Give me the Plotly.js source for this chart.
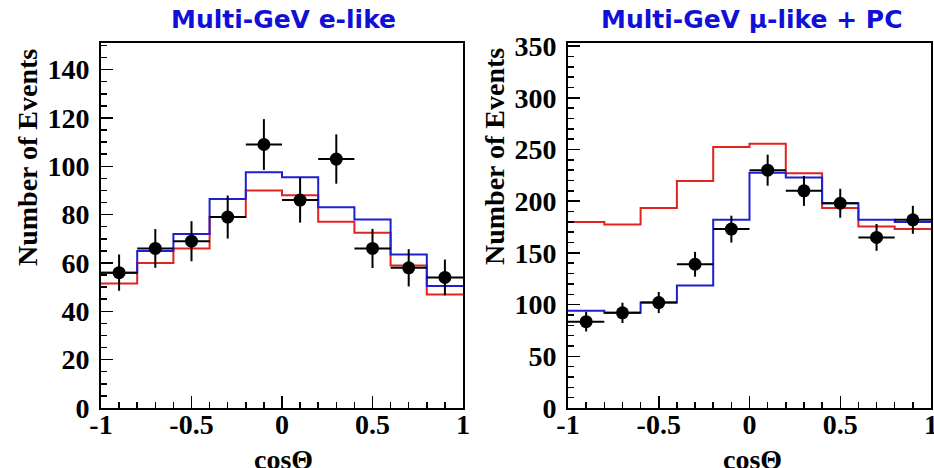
<!DOCTYPE html>
<html>
<head>
<meta charset="utf-8">
<script src="https://cdn.plot.ly/plotly-3.0.1.min.js"></script>
<style>html,body{margin:0;padding:0;background:#fff;}#chart{width:934px;height:468px;}</style>
</head>
<body>
<div id="chart"></div>
<script>
// bin centers (cos theta)
const binCenters = [-0.9, -0.7, -0.5, -0.3, -0.1, 0.1, 0.3, 0.5, 0.7, 0.9];
const binEdges = [-1, -0.8, -0.6, -0.4, -0.2, 0, 0.2, 0.4, 0.6, 0.8, 1];

// Multi-GeV e-like
const eData = [56, 66, 69, 79, 109, 86, 103, 66, 58, 54];
const eErr = [7.5, 8, 8.3, 8.9, 10.5, 9.3, 10.2, 8.1, 7.7, 7.4];
const eRed = [51.5, 60, 66, 79, 90, 88, 77, 72.5, 59, 47];
const eBlue = [56, 65, 72, 86.5, 97.5, 95.5, 83, 78, 63.5, 50.5];

// Multi-GeV mu-like + PC
const muData = [83.5, 92, 102, 139, 173, 230, 210, 198, 165, 182];
const muErr = [9.5, 9.8, 10.2, 12, 13, 15, 14.5, 14, 13, 13.5];
const muRed = [180, 177.5, 193.5, 219.5, 252.5, 255.5, 227, 193.5, 175.5, 173];
const muBlue = [94, 92, 102, 118.5, 182, 227.5, 223, 198, 182, 180];

const xTickVals = [-1, -0.5, 0, 0.5, 1];
const xTickText = ['-1', '-0.5', '0', '0.5', '1'];

const halfWidth = binCenters.map(() => 0.1);
const stepY = arr => arr.concat([arr[arr.length - 1]]);

const RED = '#e2241f';
const BLUE = '#1e1ed2';

function hist(y, color, xa, ya) {
  return {x: binEdges, y: stepY(y), type: 'scatter', mode: 'lines',
    line: {shape: 'hv', color: color, width: 2}, xaxis: xa, yaxis: ya,
    hoverinfo: 'skip', showlegend: false};
}
function pts(y, err, xa, ya) {
  return {x: binCenters, y: y, type: 'scatter', mode: 'markers',
    marker: {color: 'black', size: 13},
    error_y: {type: 'data', array: err, visible: true, color: 'black', thickness: 2, width: 0},
    error_x: {type: 'data', array: halfWidth, visible: true, color: 'black', thickness: 2, width: 0},
    xaxis: xa, yaxis: ya, showlegend: false};
}

const traces = [
  hist(eRed, RED, 'x', 'y'), hist(eBlue, BLUE, 'x', 'y'), pts(eData, eErr, 'x', 'y'),
  hist(muRed, RED, 'x2', 'y2'), hist(muBlue, BLUE, 'x2', 'y2'), pts(muData, muErr, 'x2', 'y2')
];

const tickFont = {family: 'Liberation Serif', size: 28, color: 'black', weight: 'bold'};
const W = 934, H = 468;
const yDom = [(H - 408) / H, (H - 43) / H];

function xax(dom, anchor) {
  return {domain: dom, anchor: anchor, range: [-1, 1], tickvals: xTickVals, ticktext: xTickText,
    ticks: 'inside', ticklen: 12, tickwidth: 1.5, tickcolor: 'black',
    minor: {dtick: 0.1, ticks: 'inside', ticklen: 6, tickwidth: 1.5, tickcolor: 'black'},
    showline: true, linecolor: 'black', linewidth: 2, mirror: true,
    showgrid: false, zeroline: false, tickfont: tickFont, ticklabelstandoff: -10,
    ticklabeloverflow: 'allow'};
}
function yax(dom, anchor, range, dtick, minorDtick) {
  return {domain: dom, anchor: anchor, range: range, dtick: dtick, tick0: 0,
    ticks: 'inside', ticklen: 12, tickwidth: 1.5, tickcolor: 'black',
    minor: {dtick: minorDtick, ticks: 'inside', ticklen: 6, tickwidth: 1.5, tickcolor: 'black'},
    showline: true, linecolor: 'black', linewidth: 2, mirror: true,
    showgrid: false, zeroline: false, tickfont: tickFont, ticklabelstandoff: 4,
    ticklabeloverflow: 'allow'};
}

const titleFont = {family: 'DejaVu Sans', size: 25, color: '#1010d8', weight: 'bold'};
const axTitleFont = {family: 'Liberation Serif', size: 28, color: 'black', weight: 'bold'};

const layout = {
  width: W, height: H,
  margin: {l: 0, r: 0, t: 0, b: 0},
  paper_bgcolor: 'white', plot_bgcolor: 'white',
  showlegend: false,
  xaxis: xax([101 / W, 463 / W], 'y'),
  yaxis: yax(yDom, 'x', [0, 151], 20, 5),
  xaxis2: xax([568 / W, 931 / W], 'y2'),
  yaxis2: yax(yDom, 'x2', [0, 353], 50, 10),
  annotations: [
    {text: 'Multi-GeV e-like', xref: 'paper', yref: 'paper', x: 283 / W, y: (H - 20) / H,
      showarrow: false, font: titleFont, xanchor: 'center', yanchor: 'middle'},
    {text: 'Multi-GeV μ-like + PC', xref: 'paper', yref: 'paper', x: 752 / W, y: (H - 20) / H,
      showarrow: false, font: titleFont, xanchor: 'center', yanchor: 'middle'},
    {text: 'Number of Events', xref: 'paper', yref: 'paper', x: 27 / W, y: (H - 158) / H,
      textangle: -90, showarrow: false, font: axTitleFont, xanchor: 'center', yanchor: 'middle'},
    {text: 'Number of Events', xref: 'paper', yref: 'paper', x: 494 / W, y: (H - 157) / H,
      textangle: -90, showarrow: false, font: axTitleFont, xanchor: 'center', yanchor: 'middle'},
    {text: 'cosΘ', xref: 'paper', yref: 'paper', x: 283 / W, y: (H - 459) / H,
      showarrow: false, font: axTitleFont, xanchor: 'center', yanchor: 'middle'},
    {text: 'cosΘ', xref: 'paper', yref: 'paper', x: 752 / W, y: (H - 459) / H,
      showarrow: false, font: axTitleFont, xanchor: 'center', yanchor: 'middle'}
  ]
};

Plotly.newPlot('chart', traces, layout, {displayModeBar: false, staticPlot: true});
</script>
</body>
</html>
